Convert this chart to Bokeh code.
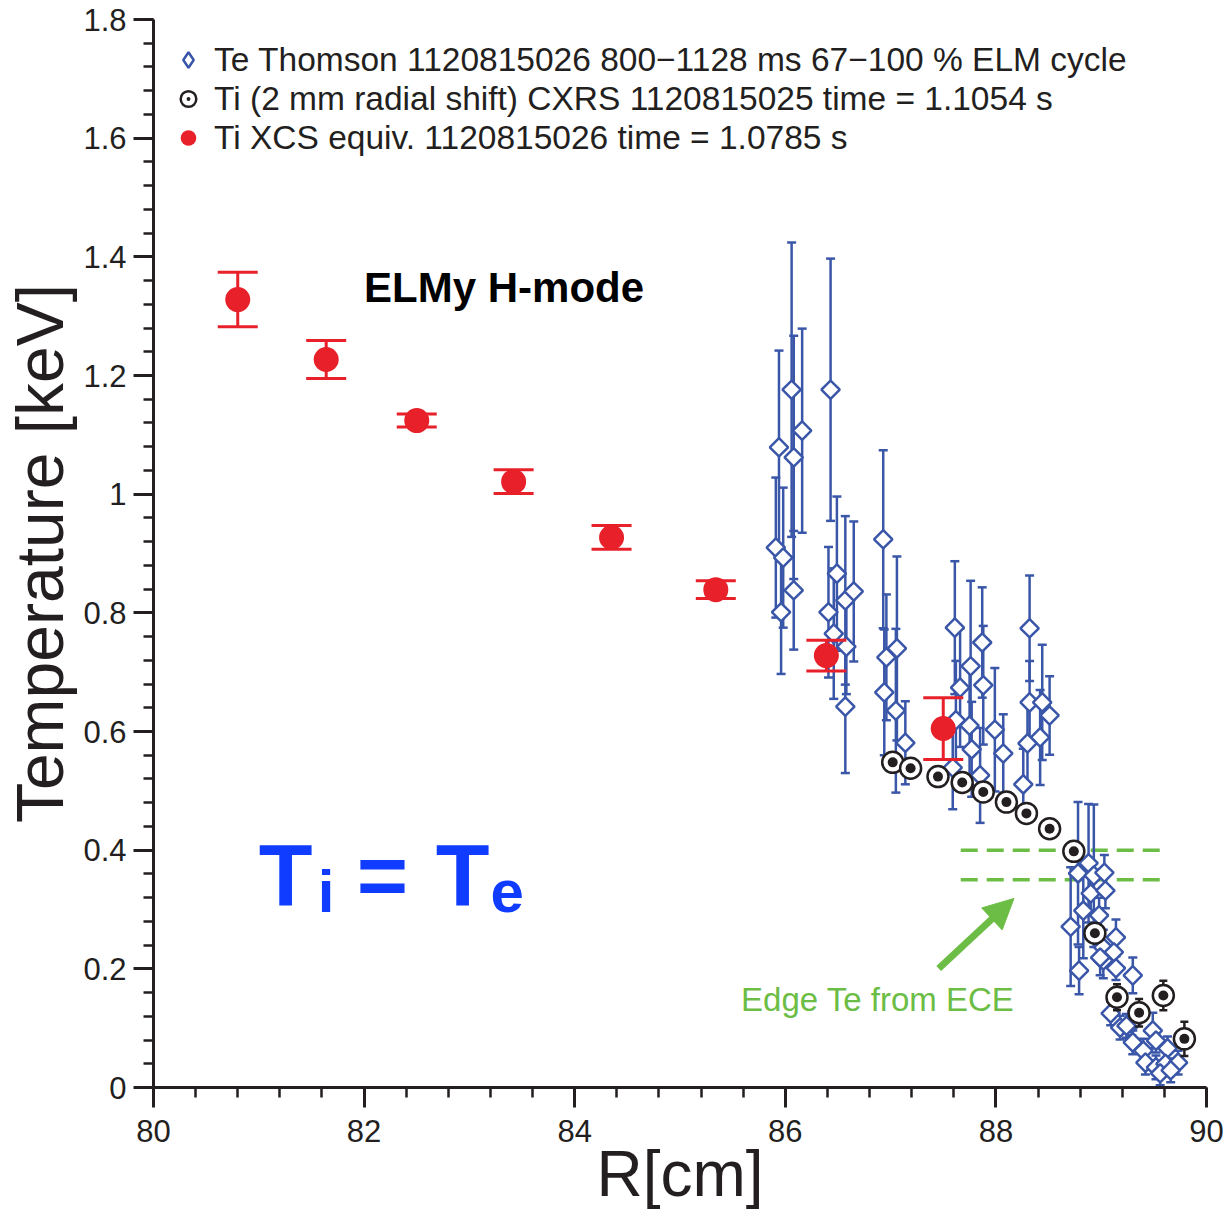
import numpy as np
from bokeh.plotting import figure
from bokeh.models import (FixedTicker, CustomJSTickFormatter, Legend, LegendItem,
                          Label, Arrow, NormalHead, ColumnDataSource)
from bokeh.embed import file_html
from bokeh.resources import INLINE

# ---------------- data ----------------
# Te Thomson 1120815026 (R [cm], Te [keV], error [keV])
thomson_R = [85.94, 86.06, 86.08, 86.16, 86.43, 85.91, 85.98, 86.08, 85.96, 86.41,
             86.49, 86.57, 86.65, 86.46, 86.58, 86.57, 86.93, 86.96, 87.06, 86.94,
             87.05, 87.14, 87.61, 87.76, 87.87, 87.66, 87.88, 87.62, 87.75, 87.99,
             87.77, 88.07, 87.85, 88.32, 88.32, 88.44, 88.51, 88.42, 88.30, 88.26,
             87.59,
             88.88, 88.78, 88.93, 89.03, 88.90, 89.04, 88.83, 88.98, 88.71, 89.14,
             89.02, 89.12, 88.79, 89.02, 89.14, 89.30, 89.09, 89.18, 89.29, 89.49,
             89.30, 89.40, 89.63, 89.42, 89.52, 89.61, 89.73, 89.56, 89.66, 89.52,
             89.24, 88.99]
thomson_Te = [1.079, 1.176, 1.062, 1.107, 1.176, 0.910, 0.893, 0.838, 0.801, 0.801,
              0.866, 0.821, 0.836, 0.765, 0.743, 0.642, 0.924, 0.725, 0.740, 0.666,
              0.635, 0.581, 0.775, 0.710, 0.750, 0.674, 0.678, 0.619, 0.610, 0.603,
              0.570, 0.563, 0.526, 0.774, 0.649, 0.649, 0.627, 0.590, 0.580, 0.511,
              0.539,
              0.378, 0.361, 0.357, 0.362, 0.327, 0.332, 0.298, 0.290, 0.271, 0.253,
              0.236, 0.228, 0.197, 0.214, 0.201, 0.189, 0.125, 0.101, 0.108, 0.096,
              0.076, 0.062, 0.066, 0.042, 0.034, 0.040, 0.042, 0.024, 0.029, 0.079,
              0.104, 0.219]
thomson_err = [0.163, 0.248, 0.205, 0.172, 0.221, 0.118, 0.118, 0.100, 0.104, 0.110,
               0.130, 0.142, 0.118, 0.110, 0.080, 0.112, 0.150, 0.106, 0.155, 0.106,
               0.138, 0.070, 0.112, 0.144, 0.093, 0.100, 0.100, 0.100, 0.100, 0.104,
               0.080, 0.066, 0.080, 0.089, 0.070, 0.097, 0.066, 0.080, 0.070, 0.060,
               0.070,
               0.100, 0.120, 0.120, 0.030, 0.030, 0.030, 0.080, 0.030, 0.100, 0.030,
               0.030, 0.030, 0.040, 0.030, 0.020, 0.030, 0.020, 0.020, 0.020, 0.030,
               0.020, 0.020, 0.020, 0.020, 0.020, 0.020, 0.020, 0.020, 0.020, 0.020,
               0.020, 0.030]

# Ti CXRS 1120815025 (2 mm radial shift)
cxrs_R = [87.02, 87.19, 87.45, 87.68, 87.88, 88.10, 88.29, 88.51, 88.74,
          88.94, 89.15, 89.36, 89.59, 89.79]
cxrs_Ti = [0.548, 0.538, 0.524, 0.514, 0.498, 0.481, 0.462, 0.436, 0.398,
           0.260, 0.152, 0.126, 0.155, 0.082]
cxrs_err = [0.012, 0.012, 0.012, 0.012, 0.012, 0.012, 0.012, 0.012, 0.012,
            0.015, 0.022, 0.023, 0.025, 0.029]

# Ti XCS equiv. 1120815026
xcs_R = [80.80, 81.64, 82.50, 83.42, 84.35, 85.34, 86.39, 87.50]
xcs_Ti = [1.328, 1.227, 1.124, 1.021, 0.927, 0.839, 0.728, 0.605]
xcs_err = [0.046, 0.032, 0.011, 0.020, 0.020, 0.015, 0.026, 0.052]

# Edge Te from ECE (levels, keV) and radial extent
ece_levels = [0.40, 0.35]
ece_R = [87.666, 89.592]

x_ticks = [80, 82, 84, 86, 88, 90]
y_ticks = [0, 0.2, 0.4, 0.6, 0.8, 1.0, 1.2, 1.4, 1.6, 1.8]

# ---------------- styling ----------------
FONT = "Liberation Sans"
INK = "#231f20"
BLUE = "#3a56a8"
RED = "#e8202a"
GREEN = "#6cbd45"
TIBLUE = "#0f3cff"

p = figure(width=1225, height=1212, x_range=(80, 90), y_range=(0, 1.8),
           output_backend="svg", toolbar_location=None,
           min_border_left=152, min_border_right=19, min_border_top=19,
           min_border_bottom=125)
p.outline_line_color = None
p.xgrid.visible = False
p.ygrid.visible = False
p.background_fill_color = "white"
p.border_fill_color = "white"

def make_source(R, v, e):
    R = np.array(R); v = np.array(v); e = np.array(e)
    return ColumnDataSource(dict(x=R, y=v, lo=v - e, hi=v + e))

th = make_source(thomson_R, thomson_Te, thomson_err)
cx = make_source(cxrs_R, cxrs_Ti, cxrs_err)
xc = make_source(xcs_R, xcs_Ti, xcs_err)

# ECE dashed lines
for lev in ece_levels:
    p.line(x=ece_R, y=[lev, lev], line_color=GREEN, line_width=3.5, line_dash="17 9")

# Thomson
p.segment(x0="x", y0="lo", x1="x", y1="hi", source=th, line_color=BLUE, line_width=2.5)
p.scatter(x="x", y="lo", source=th, marker="dash", size=9, line_color=BLUE, line_width=2.5)
p.scatter(x="x", y="hi", source=th, marker="dash", size=9, line_color=BLUE, line_width=2.5)
# diamond glyph used for the legend (hidden under the open diamonds drawn next)
r_th = p.scatter(x="x", y="y", source=th, marker="diamond", size=11,
                 fill_color="white", line_color=BLUE, line_width=2.5)
p.scatter(x="x", y="y", source=th, marker="square", angle=np.pi / 4, size=13,
          fill_color="white", line_color=BLUE, line_width=2.5)

# CXRS
p.segment(x0="x", y0="lo", x1="x", y1="hi", source=cx, line_color=INK, line_width=2.5)
p.scatter(x="x", y="lo", source=cx, marker="dash", size=8, line_color=INK, line_width=2.5)
p.scatter(x="x", y="hi", source=cx, marker="dash", size=8, line_color=INK, line_width=2.5)
r_cx = p.scatter(x="x", y="y", source=cx, marker="circle_dot", size=21,
                 fill_color="white", line_color=INK, line_width=2.5)
p.scatter(x="x", y="y", source=cx, marker="circle", size=10, fill_color=INK, line_color=None)

# XCS
p.segment(x0="x", y0="lo", x1="x", y1="hi", source=xc, line_color=RED, line_width=3)
p.scatter(x="x", y="lo", source=xc, marker="dash", size=40, line_color=RED, line_width=3)
p.scatter(x="x", y="hi", source=xc, marker="dash", size=40, line_color=RED, line_width=3)
r_xc = p.scatter(x="x", y="y", source=xc, marker="circle", size=25,
                 fill_color=RED, line_color=None)

# axes
for ax in (p.xaxis[0], p.yaxis[0]):
    ax.axis_line_width = 3
    ax.axis_line_color = INK
    ax.major_tick_line_width = 3
    ax.major_tick_line_color = INK
    ax.minor_tick_line_width = 2.5
    ax.minor_tick_line_color = INK
    ax.major_tick_in = 0
    ax.major_tick_out = 20
    ax.minor_tick_in = 0
    ax.minor_tick_out = 10
    ax.major_label_text_font = FONT
    ax.major_label_text_font_size = "31px"
    ax.major_label_text_color = INK
    ax.axis_label_text_font = FONT
    ax.axis_label_text_font_style = "normal"
    ax.axis_label_text_color = INK

p.xaxis.axis_label_text_font_size = "64px"
p.yaxis.axis_label_text_font_size = "66px"
p.xaxis.ticker = FixedTicker(ticks=x_ticks,
                             minor_ticks=[80 + 0.4 * i for i in range(26)])
p.yaxis.ticker = FixedTicker(ticks=y_ticks,
                             minor_ticks=[0.04 * i for i in range(46)])
p.yaxis.formatter = CustomJSTickFormatter(code="return String(Math.round(tick*10)/10)")
p.xaxis.axis_label = "R[cm]"
p.yaxis.axis_label = "Temperature [keV]"
p.xaxis.major_label_standoff = 12
p.yaxis.major_label_standoff = 7
p.xaxis.axis_label_standoff = -7
p.yaxis.axis_label_standoff = 3

# legend (absolute location, px from frame bottom-left)
legend = Legend(items=[
    LegendItem(label="Te Thomson 1120815026 800\u22121128 ms 67\u2212100 % ELM cycle", renderers=[r_th]),
    LegendItem(label="Ti (2 mm radial shift) CXRS 1120815025 time = 1.1054 s", renderers=[r_cx]),
    LegendItem(label="Ti XCS equiv. 1120815026 time = 1.0785 s", renderers=[r_xc]),
], location=(15, 930))
legend.border_line_color = None
legend.background_fill_alpha = 0
legend.margin = 0
legend.padding = 0
legend.spacing = 0
legend.glyph_width = 40
legend.glyph_height = 39
legend.label_height = 39
legend.label_standoff = 6
legend.label_text_font = FONT
legend.label_text_font_size = "33.5px"
legend.label_text_color = INK
p.add_layout(legend)

# annotations
p.add_layout(Label(x=82.0, y=1.348, text="ELMy H-mode", text_font=FONT,
                   text_font_size="42px", text_font_style="bold", text_color="black",
                   text_baseline="middle"))
p.add_layout(Label(x=85.58, y=0.148, text="Edge Te from ECE", text_font=FONT,
                   text_font_size="33px", text_color=GREEN, text_baseline="middle"))
p.add_layout(Label(x=81.0, y=0.359, text="T", text_font=FONT, text_font_size="88px",
                   text_font_style="bold", text_color=TIBLUE, text_baseline="middle"))
p.add_layout(Label(x=81.56, y=0.330, text="i", text_font=FONT, text_font_size="60px",
                   text_font_style="bold", text_color=TIBLUE, text_baseline="middle"))
p.add_layout(Label(x=81.93, y=0.359, text="=", text_font=FONT, text_font_size="88px",
                   text_font_style="bold", text_color=TIBLUE, text_baseline="middle"))
p.add_layout(Label(x=82.68, y=0.359, text="T", text_font=FONT, text_font_size="88px",
                   text_font_style="bold", text_color=TIBLUE, text_baseline="middle"))
p.add_layout(Label(x=83.2, y=0.3295, text="e", text_font=FONT, text_font_size="60px",
                   text_font_style="bold", text_color=TIBLUE, text_baseline="middle"))

p.add_layout(Arrow(x_start=87.457, y_start=0.2006, x_end=88.171, y_end=0.3186,
                   line_color=GREEN, line_width=7,
                   end=NormalHead(size=30, fill_color=GREEN, line_color=GREEN, line_width=1)))

open("out.html", "w").write(file_html(p, INLINE))
